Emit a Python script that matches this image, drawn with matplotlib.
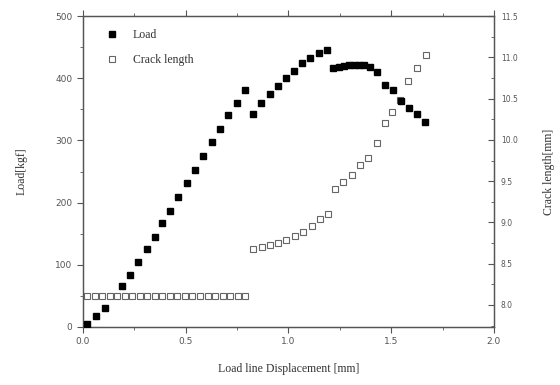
import matplotlib
matplotlib.use("Agg")
import matplotlib.pyplot as plt
import matplotlib.ticker as ticker

# load vs. load-line displacement
disp_load = [0.021, 0.066, 0.107, 0.188, 0.229, 0.269, 0.310, 0.350, 0.387,
             0.426, 0.465, 0.505, 0.545, 0.585, 0.626, 0.667, 0.707, 0.748,
             0.788, 0.829, 0.869, 0.910, 0.950, 0.988, 1.025, 1.064, 1.105,
             1.150, 1.190, 1.217, 1.245, 1.270, 1.295, 1.320, 1.345, 1.370,
             1.395, 1.430, 1.470, 1.507, 1.546, 1.588, 1.627, 1.667]
load_kgf = [5, 17, 31, 66, 84, 104, 125, 145, 167,
            187, 209, 231, 253, 275, 297, 319, 341, 361,
            381, 342, 360, 374, 388, 400, 411, 424, 432,
            440, 445, 416, 418, 420, 421, 422, 422, 421,
            418, 410, 389, 381, 364, 352, 342, 329]

# crack length vs. displacement
disp_crack = [0.020, 0.057, 0.093, 0.130, 0.167, 0.203, 0.240, 0.277, 0.313,
              0.350, 0.387, 0.423, 0.460, 0.497, 0.533, 0.570, 0.607, 0.643,
              0.680, 0.717, 0.753, 0.790,
              0.829, 0.870, 0.910, 0.950, 0.988, 1.032, 1.072, 1.113, 1.153,
              1.194, 1.226, 1.267, 1.308, 1.348, 1.388, 1.429, 1.470, 1.504,
              1.543, 1.583, 1.625, 1.669]
crack_mm = [8.11] * 22 + [8.68, 8.70, 8.73, 8.75, 8.79, 8.84, 8.89, 8.96, 9.04,
                          9.10, 9.41, 9.49, 9.58, 9.70, 9.78, 9.96, 10.20, 10.34,
                          10.48, 10.71, 10.87, 11.03]

serif = ["Liberation Serif", "DejaVu Serif"]
tick_color = "#555555"
label_color = "#333333"

fig = plt.figure(figsize=(5.6, 3.85), dpi=100)
ax = fig.add_axes([0.148, 0.151, 0.734, 0.807])
ax2 = ax.twinx()

ax2.plot(disp_crack, crack_mm, "s", ms=4.9, mfc="white", mec="#666666",
         mew=0.8, label="Crack length", zorder=2)
ax.plot(disp_load, load_kgf, "s", ms=5.0, color="black", label="Load",
        zorder=3)
ax.set_zorder(ax2.get_zorder() + 1)
ax.patch.set_visible(False)

ax.set_xlim(0, 2.0)
ax.set_ylim(0, 500)
ax2.set_ylim(7.735, 11.5)

ax.xaxis.set_major_locator(ticker.MultipleLocator(0.5))
ax.xaxis.set_minor_locator(ticker.MultipleLocator(0.25))
ax.yaxis.set_major_locator(ticker.MultipleLocator(100))
ax.yaxis.set_minor_locator(ticker.MultipleLocator(50))
ax2.yaxis.set_major_locator(ticker.MultipleLocator(0.5))
ax2.yaxis.set_minor_locator(ticker.MultipleLocator(0.25))
ax.xaxis.set_major_formatter(ticker.FormatStrFormatter("%.1f"))
ax2.yaxis.set_major_formatter(ticker.FormatStrFormatter("%.1f"))

ax.tick_params(axis="x", which="both", direction="out", top=True,
               labelsize=6.5, labelcolor=tick_color, color="#555555")
ax.tick_params(axis="x", which="major", length=4)
ax.tick_params(axis="x", which="minor", length=2.5)
ax.tick_params(axis="y", which="both", direction="out", labelsize=6.5,
               labelcolor=tick_color, color="#555555")
ax.tick_params(axis="y", which="major", length=4)
ax.tick_params(axis="y", which="minor", length=2.5)
ax2.tick_params(axis="y", which="both", direction="in", labelsize=5.5,
                labelcolor=tick_color, color="#555555", pad=5)
ax2.tick_params(axis="y", which="major", length=4)
ax2.tick_params(axis="y", which="minor", length=2.5)
for a in (ax, ax2):
    for s in a.spines.values():
        s.set_color("#555555")
        s.set_linewidth(0.9)

ax.set_xlabel("Load line Displacement [mm]", family=serif, fontsize=8.5,
              color=label_color, labelpad=12)
ax.set_ylabel("Load[kgf]", family=serif, fontsize=8.5, color=label_color,
              labelpad=20)
ax2.set_ylabel("Crack length[mm]", family=serif, fontsize=8.5,
               color=label_color, labelpad=18)

h1, l1 = ax.get_legend_handles_labels()
h2, l2 = ax2.get_legend_handles_labels()
ax.legend(h1 + h2, l1 + l2, loc="upper left", frameon=False,
          prop={"family": serif, "size": 8.5}, labelcolor=label_color,
          handletextpad=0.8, borderaxespad=0.0, labelspacing=1.1,
          markerscale=0.9, bbox_to_anchor=(0.03, 0.975))

fig.savefig("out.png", dpi=100)
